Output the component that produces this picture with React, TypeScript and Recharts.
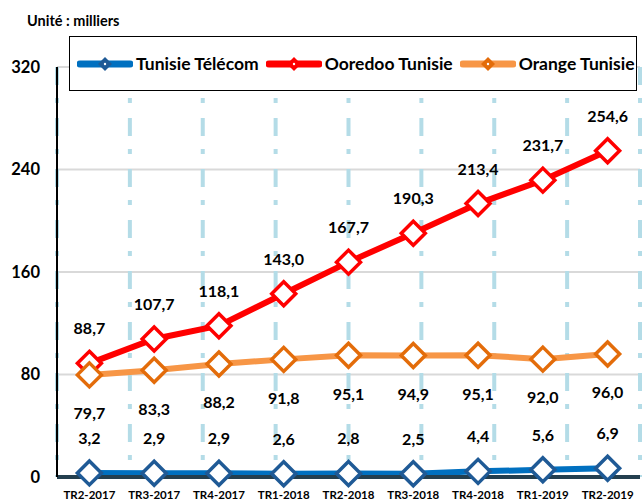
import React from 'react';
import { LineChart, Line, XAxis, YAxis, CartesianGrid, LabelList, ReferenceArea } from 'recharts';

const periods = ['TR2-2017', 'TR3-2017', 'TR4-2017', 'TR1-2018', 'TR2-2018', 'TR3-2018', 'TR4-2018', 'TR1-2019', 'TR2-2019'];
const tunisieTelecom = [3.2, 2.9, 2.9, 2.6, 2.8, 2.5, 4.4, 5.6, 6.9];
const ooredooTunisie = [88.7, 107.7, 118.1, 143.0, 167.7, 190.3, 213.4, 231.7, 254.6];
const orangeTunisie = [79.7, 83.3, 88.2, 91.8, 95.1, 94.9, 95.1, 92.0, 96.0];
const yTicks = [0, 80, 160, 240, 320];
const unitLabel = 'Unité : milliers';

const series = [
  { key: 'tt', name: 'Tunisie Télécom', line: '#0070C0', marker: '#1F5A96', labelPos: 'top' as const },
  { key: 'ooredoo', name: 'Ooredoo Tunisie', line: '#FF0000', marker: '#FF0000', labelPos: 'top' as const },
  { key: 'orange', name: 'Orange Tunisie', line: '#F79646', marker: '#E36C0A', labelPos: 'bottom' as const },
];

const data = periods.map((p, i) => ({
  period: p,
  tt: tunisieTelecom[i],
  ooredoo: ooredooTunisie[i],
  orange: orangeTunisie[i],
}));

const boundaryTicks = periods.slice(1).map((_, i) => i + 1);
const FONT = 'Lato, "Open Sans", sans-serif';

const fmt = (v: any) => (typeof v === 'number' ? v.toFixed(1).replace('.', ',') : v);

const makeDiamond = (stroke: string) => (props: any) => {
  const { cx, cy, index } = props;
  if (cx == null || cy == null) return <g key={index} />;
  const r = 12;
  return (
    <polygon
      key={index}
      points={`${cx},${cy - r} ${cx + r},${cy} ${cx},${cy + r} ${cx - r},${cy}`}
      fill="#fff"
      stroke={stroke}
      strokeWidth={3.5}
    />
  );
};

const LegendSwatch = ({ line, marker }: { line: string; marker: string }) => (
  <svg width={56} height={16} style={{ display: 'block', flex: '0 0 auto' }}>
    <line x1={3} y1={8} x2={53} y2={8} stroke={line} strokeWidth={7} strokeLinecap="round" />
    <polygon points="28,1 35,8 28,15 21,8" fill={marker} />
    <circle cx={28} cy={8} r={1.2} fill="#fff" />
  </svg>
);

export default function App() {
  return (
    <div style={{ position: 'absolute', left: 0, top: 0, width: 643, height: 500, background: '#fff', fontFamily: FONT, overflow: 'hidden' }}>
      <LineChart width={643} height={500} data={data} margin={{ top: 67, right: 3, bottom: 0, left: 0 }}>
        <CartesianGrid vertical={false} stroke="#D9D9D9" strokeWidth={2} />
        <CartesianGrid xAxisId="grid" horizontal={false} stroke="#B4DCE7" strokeWidth={4} strokeDasharray="18 13 5 15" />
        <XAxis
          dataKey="period"
          scale="band"
          interval={0}
          height={23}
          tickLine={false}
          tickSize={0}
          tickMargin={14}
          axisLine={{ stroke: '#243F4F', strokeWidth: 4 }}
          tick={{ fill: '#000', fontSize: 11.5, fontWeight: 700, fontFamily: FONT }}
        />
        <XAxis xAxisId="grid" type="number" domain={[0, 9]} ticks={boundaryTicks} hide />
        <YAxis
          domain={[0, 320]}
          ticks={yTicks}
          width={57}
          tickLine={false}
          tickSize={0}
          tickMargin={17}
          axisLine={{ stroke: '#000', strokeWidth: 2 }}
          tick={{ fill: '#000', fontSize: 16.5, fontWeight: 700, fontFamily: FONT }}
        />
        <ReferenceArea xAxisId="grid" x1={0} x2={9} y1={0} y2={320} fill="none" stroke="#000" strokeWidth={1.5} />
        {series.map((s) => (
          <Line
            key={s.key}
            dataKey={s.key}
            name={s.name}
            stroke={s.line}
            strokeWidth={6}
            dot={makeDiamond(s.marker)}
            activeDot={false}
            isAnimationActive={false}
          >
            <LabelList
              dataKey={s.key}
              position={s.labelPos}
              offset={s.labelPos === 'top' ? 29 : 33}
              formatter={fmt}
              style={{ fill: '#000', fontSize: 16, fontWeight: 700, fontFamily: FONT }}
            />
          </Line>
        ))}
      </LineChart>
      <div style={{ position: 'absolute', left: 27, top: 12, fontSize: 14.5, fontWeight: 700, color: '#000' }}>{unitLabel}</div>
      <div
        style={{
          position: 'absolute',
          left: 69,
          top: 36,
          width: 568,
          height: 55,
          boxSizing: 'border-box',
          border: '1.5px solid #000',
          background: '#fff',
          display: 'flex',
          alignItems: 'center',
          paddingLeft: 7,
        }}
      >
        {series.map((s, i) => (
          <div key={s.key} style={{ display: 'flex', alignItems: 'center', marginLeft: i === 0 ? 0 : 7 }}>
            <LegendSwatch line={s.line} marker={s.marker} />
            <span style={{ fontSize: 17.5, fontWeight: 700, color: '#000', marginLeft: 3, whiteSpace: 'nowrap' }}>{s.name}</span>
          </div>
        ))}
      </div>
    </div>
  );
}
